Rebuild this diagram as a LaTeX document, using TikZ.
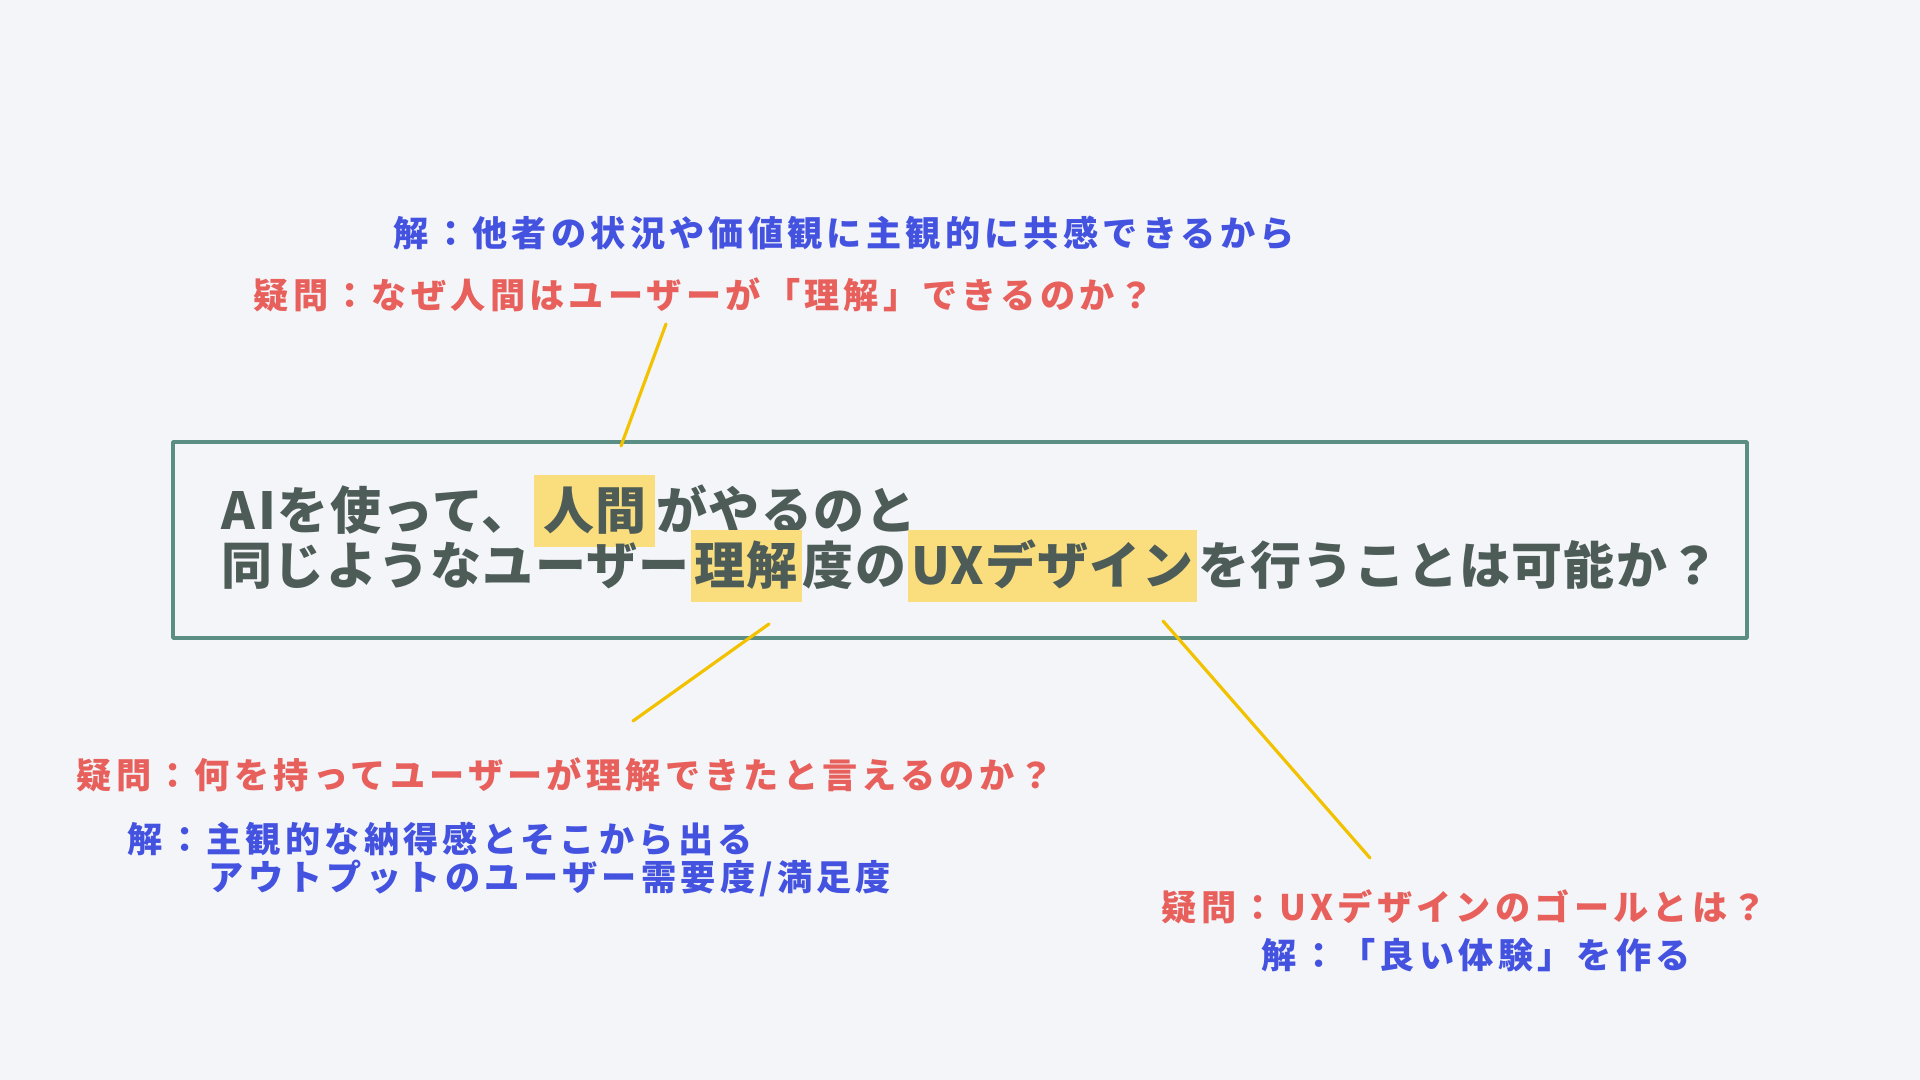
\documentclass[tikz,border=0pt]{standalone}
\usepackage{fontspec}
\setmainfont{Noto Sans CJK JP}
\usetikzlibrary{positioning}

\definecolor{bgcol}{HTML}{F3F5F9}
\definecolor{framecol}{HTML}{5B8F86}
\definecolor{headcol}{HTML}{4E5C58}
\definecolor{hlcol}{HTML}{FADE7E}
\definecolor{linkcol}{HTML}{F2C200}
\definecolor{qcol}{HTML}{E8605C}
\definecolor{acol}{HTML}{4452E0}

\begin{document}
\begin{tikzpicture}[x=0.01cm, y=-0.01cm, line cap=round, line join=round,
  head/.style={font=\fontsize{14.5}{17}\selectfont\bfseries\addfontfeatures{LetterSpace=2.5},
    text=headcol, inner sep=0pt, text height=12.6pt, text depth=1.8pt},
  hl/.style={head, fill=hlcol, inner xsep=1pt, inner ysep=2.9pt},
  ques/.style={font=\fontsize{10}{12}\selectfont\bfseries\addfontfeatures{LetterSpace=12},
    text=qcol, inner sep=0pt, anchor=west},
  ans/.style={ques, text=acol},
  link/.style={draw=linkcol, line width=0.9pt}]
  % background and page size
  \fill[bgcol] (0,0) rectangle (1920,1080);
  \useasboundingbox (0,0) rectangle (1920,1080);

  % Main question in the frame
  \draw[framecol, line width=1pt] (173,442) rectangle (1747,638);
  \node[head, anchor=west] (l1a) at (221,511) {A\kern1pt Iを使って、};
  \node[hl, inner xsep=2.5pt, right=0pt of l1a] (l1b) {人間};
  \node[head, right=0pt of l1b] (l1c) {がやるのと};
  \node[head, anchor=west] (l2a) at (221,566) {同じようなユーザー};
  \node[hl, right=0pt of l2a] (l2b) {理解};
  \node[head, right=0pt of l2b] (l2c) {度の};
  \node[hl, right=0pt of l2c] (l2d) {UXデザイン};
  \node[head, right=0pt of l2d] (l2e) {を行うことは可能か？};

  % Top: why can humans understand
  \node[ans] (atop) at (393,233) {解：他者の状況や価値観に主観的に共感できるから};
  \node[ques] (qtop) at (253,295) {疑問：なぜ人間はユーザーが「理解」できるのか？};

  % Bottom left: what counts as understanding
  \node[ques] (qleft) at (76,775) {疑問：何を持ってユーザーが理解できたと言えるのか？};
  \node[ans] (aleft) at (127,839) {解：主観的な納得感とそこから出る};
  \node[ans] (aleft2) at (208,878) {アウトプットのユーザー需要度/満足度};

  % Bottom right: goal of UX design
  \node[ques] (qright) at (1161,907) {疑問：UXデザインのゴールとは？};
  \node[ans] (aright) at (1261,955) {解：「良い体験」を作る};

  % Connectors
  \coordinate (t1) at (666,324);
  \coordinate (t2) at (621,446);
  \coordinate (m1) at (769,624);
  \coordinate (m2) at (633,721);
  \coordinate (r1) at (1163,621);
  \coordinate (r2) at (1370,858);
  \draw[link] (t1) -- (t2);
  \draw[link] (m1) -- (m2);
  \draw[link] (r1) -- (r2);
\end{tikzpicture}
\end{document}
